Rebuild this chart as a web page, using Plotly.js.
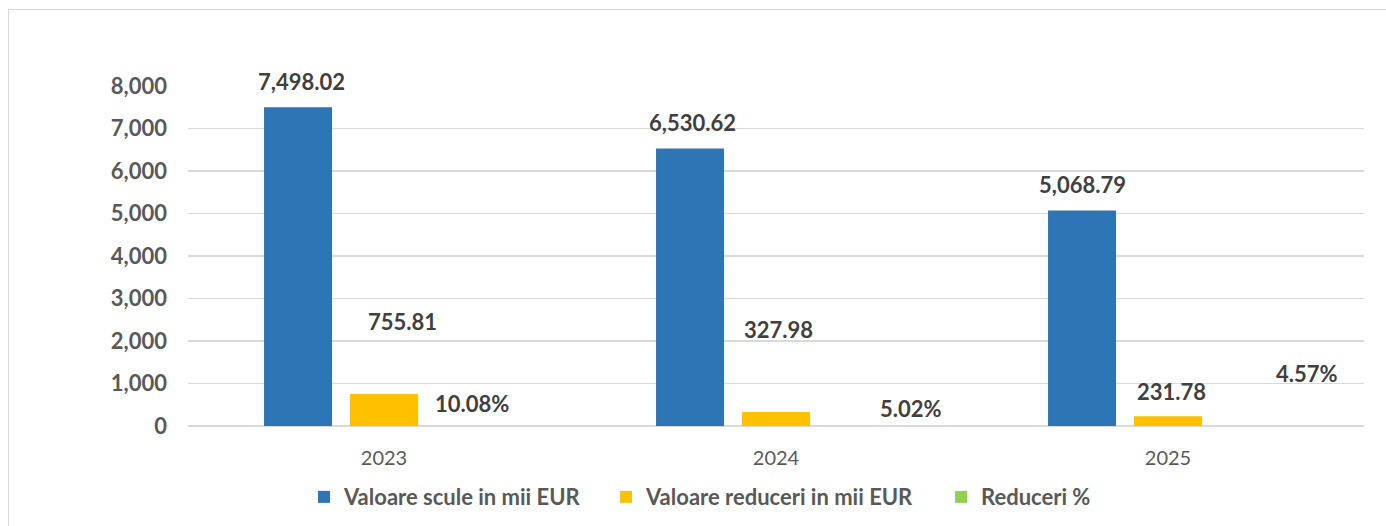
<!DOCTYPE html>
<html>
<head>
<meta charset="utf-8">
<script src="https://cdn.plot.ly/plotly-3.0.1.min.js"></script>
<style>
  html, body { margin: 0; padding: 0; background: #ffffff; }
  #wrap { position: relative; width: 1386px; height: 526px; overflow: hidden; }
  #frame { position: absolute; left: 8px; top: 9px; width: 1400px; height: 540px; border: 1px solid #d9d9d9; box-sizing: border-box; }
  #chart { position: absolute; left: 0; top: 0; width: 1386px; height: 526px; }
</style>
</head>
<body>
<div id="wrap">
  <div id="frame"></div>
  <div id="chart"></div>
</div>
<script>
// ---- data ----
const years = ['2023', '2024', '2025'];
const seriesNames = ['Valoare scule in mii EUR', 'Valoare reduceri in mii EUR', 'Reduceri %'];
const valoareScule = [7498.02, 6530.62, 5068.79];
const valoareReduceri = [755.81, 327.98, 231.78];
const reduceriPct = [0.1008, 0.0502, 0.0457];
const yTicks = [0, 1000, 2000, 3000, 4000, 5000, 6000, 7000, 8000];

// ---- styles / label placement (pixels) ----
const colors = ['#2E75B6', '#FFC000', '#92D050'];
const barOffsetPx = [-86, 0, 86];
const labelDx = [[3, 2, 0], [18, 2, 3], [2, 49, 53]];   // per series, per year (extra px from bar centre)
const labelDy = [[26, 26, 26], [72, 83, 25], [23, 18, 53]];
const legendTextStartPx = [344, 646, 981];               // where each legend text begins
const legendIds = ['legend', 'legend2', 'legend3'];

const FONT = 'Lato, "Open Sans", "DejaVu Sans", sans-serif';
const seriesValues = [valoareScule, valoareReduceri, reduceriPct];
const PLOT_L = 188, PLOT_W = 1176;

const traces = seriesValues.map((vals, i) => ({
  type: 'bar',
  name: seriesNames[i],
  x: years,
  y: vals,
  legend: legendIds[i],
  marker: { color: colors[i], line: { width: 0 } },
  hoverinfo: 'skip'
}));

function fmt(v, i) {
  if (i === 2) return (v * 100).toFixed(2) + '%';
  return v.toLocaleString('en-US', { minimumFractionDigits: 2, maximumFractionDigits: 2 });
}

const annotations = [];
seriesValues.forEach((vals, i) => {
  vals.forEach((v, j) => {
    annotations.push({
      x: j, y: v, xref: 'x', yref: 'y',   // j = category index of years[j]
      text: fmt(v, i), showarrow: false,
      xanchor: 'center', yanchor: 'middle',
      xshift: barOffsetPx[i] + labelDx[i][j],
      yshift: labelDy[i][j],
      font: { family: FONT, size: 22, color: '#404040', weight: 'bold' }
    });
  });
});

const layout = {
  width: 1386, height: 526,
  margin: { l: 188, r: 22, t: 86, b: 100, autoexpand: false },
  paper_bgcolor: 'rgba(0,0,0,0)',
  plot_bgcolor: 'rgba(0,0,0,0)',
  barmode: 'group',
  bargap: 0.342,
  bargroupgap: 0.209,
  showlegend: true,
  xaxis: {
    type: 'category',
    categoryorder: 'array', categoryarray: years,
    range: [-0.5, 2.5], autorange: false,
    showgrid: false, zeroline: false, showline: false, ticks: '',
    tickfont: { family: FONT, size: 20, color: '#595959' },
    ticklabelstandoff: 18
  },
  yaxis: {
    range: [0, 8000], autorange: false,
    tickvals: yTicks,
    tickformat: ',',
    showgrid: true, gridcolor: '#d9d9d9', gridwidth: 1.5,
    zeroline: true, zerolinecolor: '#d9d9d9', zerolinewidth: 1.5,
    showline: false, ticks: '',
    tickfont: { family: FONT, size: 22, color: '#595959', weight: 'bold' },
    ticklabelstandoff: 20
  },
  annotations: annotations
};

legendIds.forEach((id, i) => {
  layout[id] = {
    orientation: 'h', xref: 'paper',
    x: (legendTextStartPx[i] - 40 - PLOT_L) / PLOT_W, xanchor: 'left',
    y: -0.209, yanchor: 'middle',
    bgcolor: 'rgba(0,0,0,0)', borderwidth: 0,
    font: { family: FONT, size: 22, color: '#595959', weight: 'bold' },
    itemwidth: 30
  };
});

Plotly.newPlot('chart', traces, layout, { displayModeBar: false, staticPlot: true });
</script>
</body>
</html>
